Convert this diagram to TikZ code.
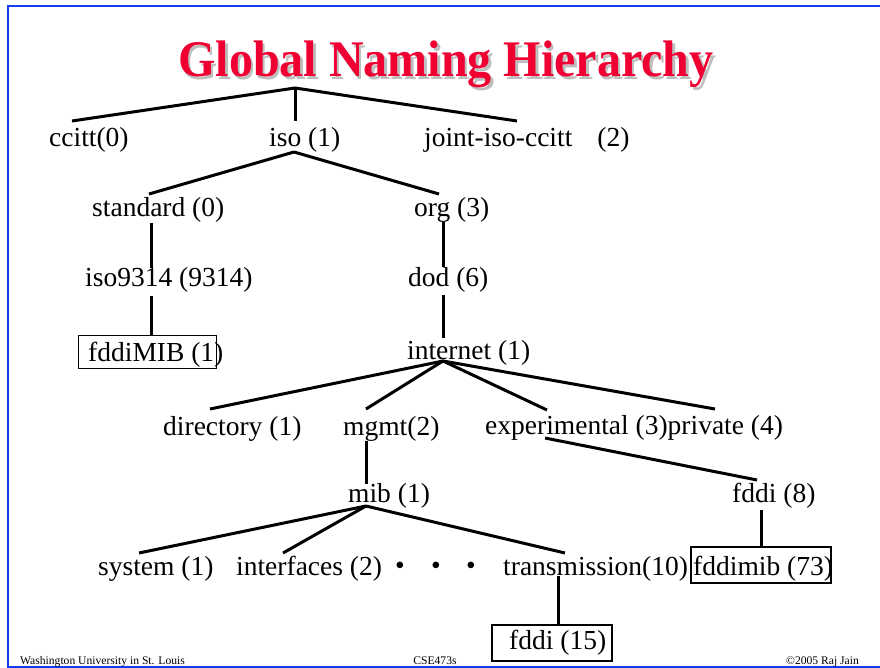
\documentclass[tikz,border=0pt]{standalone}
\usepackage{fontspec}
\setmainfont{Liberation Serif}
\definecolor{framblue}{RGB}{20,60,240}
\definecolor{titred}{RGB}{240,0,50}
\definecolor{shadgray}{RGB}{190,190,190}
\tikzset{
  lbl/.style={anchor=base west, inner sep=0pt, font=\fontsize{27.5}{30}\selectfont},
  foot/.style={anchor=base, inner sep=0pt, font=\fontsize{11.6}{13}\selectfont},
  edge/.style={line width=3pt},
  boxthin/.style={draw, line width=1pt, inner sep=0pt},
  boxmid/.style={draw, line width=1.5pt, inner sep=0pt},
  boxthick/.style={draw, line width=2.5pt, inner sep=0pt},
  dotn/.style={inner sep=0pt, font=\fontsize{27.5}{30}\selectfont},
  titl/.style={anchor=base, inner sep=0pt, yscale=1.07, font=\fontsize{48}{52}\selectfont\bfseries}
}
\begin{document}
\begin{tikzpicture}[x=1pt,y=-1pt]
\useasboundingbox (0,0) rectangle (880,668);
% frame
\draw[framblue, line width=2pt] (880,6.5) -- (7.5,6.5) -- (7.5,666.5) -- (880,666.5);
% title with shadow
\node[titl, text=shadgray] (titsh) at (448.5,79.5) {Global Naming Hierarchy};
\node[titl, text=titred] (tit) at (446,77) {Global Naming Hierarchy};

% labels
\node[lbl] (ccitt) at (49,147) {ccitt(0)};
\node[lbl] (iso) at (269,147) {iso (1)};
\node[lbl] (joint) at (424,147) {joint-iso-ccitt\hspace*{25pt}(2)};
\node[lbl] (std) at (92,217) {standard (0)};
\node[lbl] (org) at (414,217) {org (3)};
\node[lbl] (iso9314) at (85,287) {iso9314 (9314)};
\node[lbl] (dod) at (408,287) {dod (6)};
\node[lbl] (fddiMIB) at (88,361) {fddiMIB (1)};
\node[lbl] (internet) at (407,359) {internet (1)};
\node[lbl] (directory) at (163,435) {directory (1)};
\node[lbl] (mgmt) at (343,435) {mgmt(2)};
\node[lbl] (exper) at (485,434) {experimental (3)private (4)};
\node[lbl] (mib) at (348,502) {mib (1)};
\node[lbl] (fddi8) at (732,502) {fddi (8)};
\node[lbl] (system) at (98,575) {system (1)};
\node[lbl] (interf) at (236,575) {interfaces (2)};
\node[lbl] (transm) at (503,575) {transmission(10)};
\node[lbl] (fddimib) at (693,575) {fddimib (73)};
\node[lbl] (fddi15) at (509,649) {fddi (15)};

% bullets
\node[dotn] (b1) at (400,568) {\textbullet};
\node[dotn] (b2) at (436,568) {\textbullet};
\node[dotn] (b3) at (471,568) {\textbullet};

% boxes
\node[boxthin, minimum width=138pt, minimum height=33pt] (boxA) at (147,351.5) {};
\node[boxthick, minimum width=140pt, minimum height=36pt] (boxB) at (761,565) {};
\node[boxmid, minimum width=120pt, minimum height=36pt] (boxC) at (552,643) {};

% junction coordinates
\coordinate (rootJ) at (295,88);
\coordinate (ccittT) at (72,121);
\coordinate (isoT) at (295,121);
\coordinate (jointT) at (517,121);
\coordinate (isoJ) at (294,152);
\coordinate (stdT) at (149,194);
\coordinate (orgT) at (439,194);
\coordinate (stdB) at (151,223);
\coordinate (iso9314T) at (151,268);
\coordinate (iso9314B) at (151,296);
\coordinate (orgB) at (443,222);
\coordinate (dodT) at (443,267);
\coordinate (dodB) at (443,295);
\coordinate (dodBot) at (443,338);
\coordinate (intJ) at (443,361);
\coordinate (dirT) at (210,409);
\coordinate (mgmtT) at (366,409);
\coordinate (expT) at (547,410);
\coordinate (privT) at (715,409);
\coordinate (expB) at (545,438);
\coordinate (fddi8T) at (757,480);
\coordinate (mgmtB) at (366,441);
\coordinate (mibT) at (366,484);
\coordinate (mibJ) at (366,506);
\coordinate (sysT) at (139,553);
\coordinate (intfT) at (283,553);
\coordinate (trT) at (565,553);
\coordinate (fddi8B) at (761,510);
\coordinate (trB) at (558,576);

% connectors
\draw[edge] (rootJ) -- (ccittT);
\draw[edge] (rootJ) -- (isoT);
\draw[edge] (rootJ) -- (jointT);
\draw[edge] (isoJ) -- (stdT);
\draw[edge] (isoJ) -- (orgT);
\draw[edge] (stdB) -- (iso9314T);
\draw[edge] (iso9314B) -- (iso9314B |- boxA.north);
\draw[edge] (orgB) -- (dodT);
\draw[edge] (dodB) -- (dodBot);
\draw[edge] (intJ) -- (dirT);
\draw[edge] (intJ) -- (mgmtT);
\draw[edge] (intJ) -- (expT);
\draw[edge] (intJ) -- (privT);
\draw[edge] (expB) -- (fddi8T);
\draw[edge] (mgmtB) -- (mibT);
\draw[edge] (mibJ) -- (sysT);
\draw[edge] (mibJ) -- (intfT);
\draw[edge] (mibJ) -- (trT);
\draw[edge] (fddi8B) -- (fddi8B |- boxB.north);
\draw[edge] (trB) -- (trB |- boxC.north);

% footer
\node[foot, anchor=base west] (fl) at (20,664) {Washington University in St. Louis};
\node[foot] (fc) at (435,664) {CSE473s};
\node[foot, anchor=base east] (fr) at (859,664) {\textcopyright2005 Raj Jain};
\end{tikzpicture}
\end{document}
